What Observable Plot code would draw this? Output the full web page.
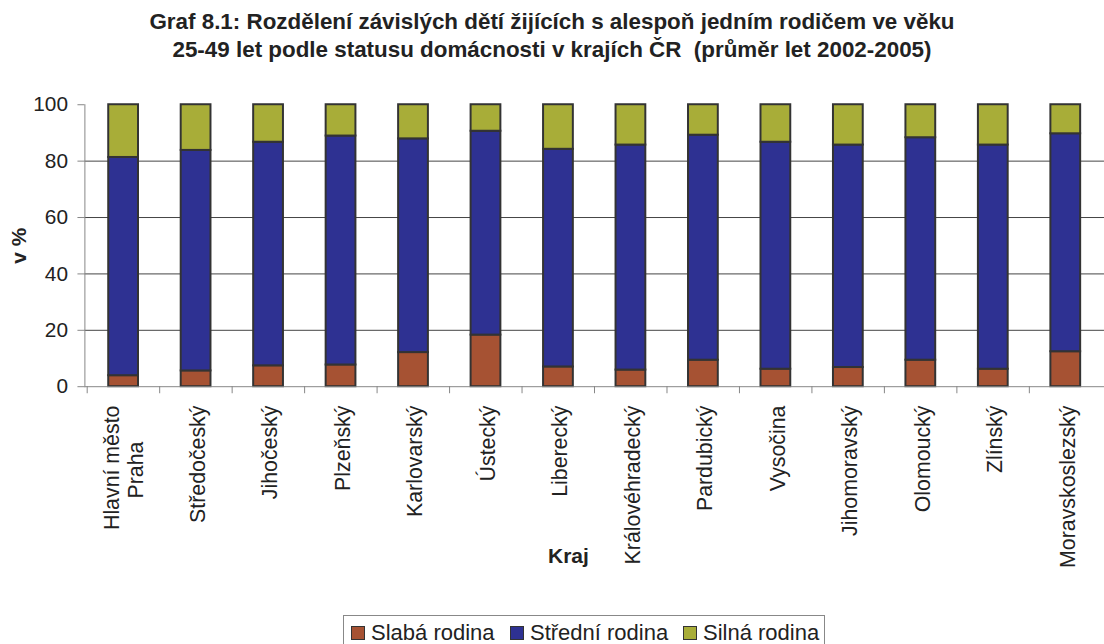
<!DOCTYPE html>
<html>
<head>
<meta charset="utf-8">
<script src="https://cdn.jsdelivr.net/npm/d3@7"></script>
<script src="https://cdn.jsdelivr.net/npm/@observablehq/plot@0.6"></script>
<style>
  html, body { margin: 0; padding: 0; background: #fff; overflow: hidden; }
  #wrap { position: relative; width: 1104px; height: 644px; overflow: hidden; font-family: "Liberation Sans", Arial, sans-serif; color: #222; }
  #title { position: absolute; left: 0; width: 1104px; top: 8px; text-align: center; font-weight: bold; font-size: 22.4px; line-height: 28px; color: #222; }
  #chart { position: absolute; left: 0; top: 0; }
  #kraj { position: absolute; left: 548px; top: 544px; font-weight: bold; font-size: 21px; }
  #legend { position: absolute; left: 343px; top: 615px; width: 482px; height: 40px; border: 1px solid #888; box-sizing: border-box; font-size: 22px; }
  .item { position: absolute; top: 4px; display: flex; align-items: center; white-space: nowrap; }
  .sw { width: 12px; height: 12px; border: 1px solid #333; margin-right: 6px; }
</style>
</head>
<body>
<div id="wrap">
  <div id="chart"></div>
  <div id="title">Graf 8.1: Rozdělení závislých dětí žijících s alespoň jedním rodičem ve věku<br>25-49 let podle statusu domácnosti v krajích ČR&nbsp; (průměr let 2002-2005)</div>
  <div id="kraj">Kraj</div>
  <div id="legend"></div>
</div>
<script>
const kraje = ["Hlavní město\nPraha", "Středočeský", "Jihočeský", "Plzeňský", "Karlovarský", "Ústecký", "Liberecký", "Královéhradecký", "Pardubický", "Vysočina", "Jihomoravský", "Olomoucký", "Zlínský", "Moravskoslezský"];
const series = ["Slabá rodina", "Střední rodina", "Silná rodina"];
const colors = ["#A65233", "#2E3192", "#A8AD38"];
const slaba   = [3.9, 5.6, 7.4, 7.7, 12.1, 18.3, 7.0, 5.9, 9.4, 6.2, 6.8, 9.4, 6.2, 12.4];
const stredni = [77.4, 78.2, 79.3, 81.2, 75.8, 72.3, 77.2, 79.8, 79.8, 80.5, 78.9, 78.9, 79.5, 77.3];
const silna   = [18.7, 16.2, 13.3, 11.1, 12.1, 9.4, 15.8, 14.3, 10.8, 13.3, 14.3, 11.7, 14.3, 10.3];
const yTicks = [0, 20, 40, 60, 80, 100];
const gridTicks = [20, 40, 60, 80];

const values = [slaba, stredni, silna];
const table = [];
kraje.forEach((k, i) => series.forEach((s, j) => table.push({kraj: k, series: s, value: values[j][i]})));

// multi-line labels: first line via the axis, further lines centred under it
const firstLine = d => d.includes("\n") ? d.split("\n")[0] + "\n " : d;
const extraLines = kraje.filter(d => d.includes("\n"));

const W = 1112, ML = 85, MR = 0;
const step = (W - ML - MR) / kraje.length;

const chart = Plot.plot({
  width: W,
  height: 600,
  marginLeft: ML,
  marginRight: MR,
  marginTop: 105,
  marginBottom: 211,
  style: {fontFamily: "'Liberation Sans', Arial, sans-serif", fontSize: "21px", color: "#222", background: "transparent", overflow: "visible"},
  x: {domain: kraje, paddingInner: 0.591, paddingOuter: 0.2955, label: null},
  y: {domain: [0, 100], label: null},
  color: {domain: series, range: colors},
  marks: [
    Plot.gridY(gridTicks, {stroke: "#444", strokeOpacity: 1, strokeWidth: 1}),
    Plot.barY(table, Plot.stackY({x: "kraj", y: "value", z: "series", fill: "series", order: series, stroke: "#333", strokeWidth: 2})),
    Plot.frame({anchor: "left", stroke: "#868686"}),
    Plot.frame({anchor: "bottom", stroke: "#868686"}),
    Plot.ruleX(kraje, {x: d => d, dx: -step / 2, y1: 0, y2: -2.5, stroke: "#868686"}),
    Plot.axisY(yTicks, {tickSize: 7, tickPadding: 10, stroke: "#868686", fill: "#222", fontSize: 21, label: "v %", labelAnchor: "center", labelOffset: 74, labelArrow: "none"}),
    Plot.axisX({tickSize: 0, tickPadding: 19, tickRotate: -90, fontSize: 21.5, lineHeight: 1.3, fill: "#222", label: null, tickFormat: firstLine}),
    Plot.text(extraLines, {x: d => d, text: d => d.split("\n").slice(1).join(" "), frameAnchor: "bottom", dy: 84, dx: 20, rotate: -90, textAnchor: "middle", fontSize: 21.5, fill: "#222"})
  ]
});
document.getElementById("chart").appendChild(chart);
chart.querySelectorAll("text").forEach(t => { if (t.textContent === "v %") t.setAttribute("font-weight", "bold"); });

const legend = document.getElementById("legend");
const legendX = [7, 166, 339];
series.forEach((s, j) => {
  const it = document.createElement("div");
  it.className = "item";
  it.style.left = legendX[j] + "px";
  const sw = document.createElement("div");
  sw.className = "sw";
  sw.style.background = colors[j];
  const tx = document.createElement("span");
  tx.textContent = s;
  it.appendChild(sw); it.appendChild(tx);
  legend.appendChild(it);
});
</script>
</body>
</html>
